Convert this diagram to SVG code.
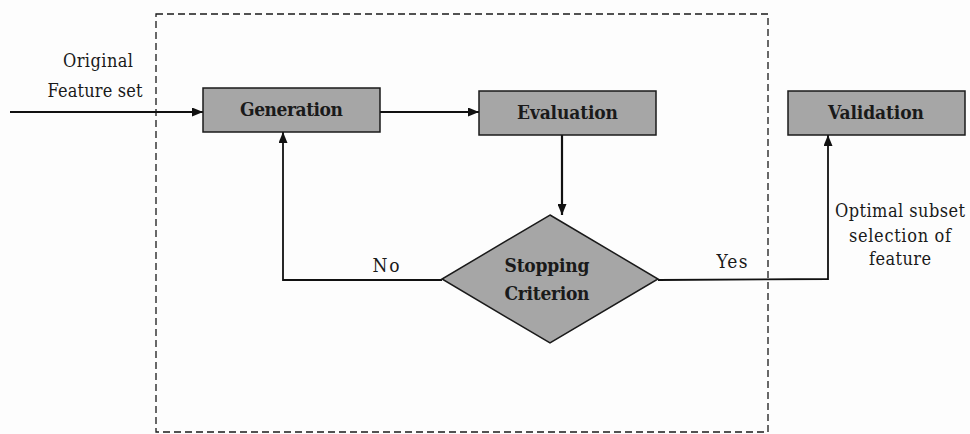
<svg xmlns="http://www.w3.org/2000/svg" width="970" height="434" viewBox="0 0 970 434">
<style>
.box{fill:#a6a6a6;stroke:#1a1a1a;stroke-width:1.5}
.lbl{font-family:"DejaVu Serif Condensed","DejaVu Serif",serif;font-stretch:condensed;font-weight:bold;font-size:19px;fill:#1a1a1a;text-anchor:middle}
.txt{font-family:"DejaVu Serif Condensed","DejaVu Serif",serif;font-stretch:condensed;font-size:18px;fill:#1a1a1a;text-anchor:middle}
.ln{fill:none;stroke:#111;stroke-width:1.8}
.dash{fill:none;stroke:#1a1a1a;stroke-width:1.3;stroke-dasharray:7 4}
</style>
<defs>
<marker id="ah" viewBox="0 0 11 9" refX="11" refY="4.5" markerWidth="11" markerHeight="9" markerUnits="userSpaceOnUse" orient="auto">
<path d="M0,0 L11,4.5 L0,9 Z" fill="#111"/>
</marker>
</defs>
<rect width="970" height="434" fill="#fdfdfd"/>
<rect id="boundary" class="dash" x="156" y="14" width="612" height="418"/>
<g id="connectors">
<line class="ln" x1="10" y1="112" x2="203" y2="112" marker-end="url(#ah)"/>
<line class="ln" x1="380" y1="112" x2="479" y2="112" marker-end="url(#ah)"/>
<line class="ln" x1="562" y1="135" x2="562" y2="215" marker-end="url(#ah)" style="stroke-width:2.2"/>
<polyline class="ln" points="442,280 283,280 283,132" marker-end="url(#ah)"/>
<polyline class="ln" points="658,280 828,279 828,135" marker-end="url(#ah)"/>
<text class="txt" x="386" y="272" style="font-size:19px" textLength="27" lengthAdjust="spacing">No</text>
<text class="txt" x="732" y="268" style="font-size:19px" textLength="31" lengthAdjust="spacing">Yes</text>
</g>
<g id="input-label">
<text class="txt" x="98" y="67" textLength="70" lengthAdjust="spacing">Original</text>
<text class="txt" x="95" y="97" textLength="95" lengthAdjust="spacing">Feature set</text>
</g>
<g id="generation">
<rect class="box" x="203" y="88" width="177" height="44"/>
<text class="lbl" x="291.5" y="116" textLength="103" lengthAdjust="spacing">Generation</text>
</g>
<g id="evaluation">
<rect class="box" x="479" y="91" width="177" height="44"/>
<text class="lbl" x="567.5" y="119" textLength="101" lengthAdjust="spacing">Evaluation</text>
</g>
<g id="validation">
<rect class="box" x="788" y="91" width="177" height="44"/>
<text class="lbl" x="876" y="119" textLength="96" lengthAdjust="spacing">Validation</text>
</g>
<g id="stopping-criterion">
<polygon class="box" points="550,215 658,279 550,343 442,279"/>
<text class="lbl" x="547" y="272" textLength="85" lengthAdjust="spacing">Stopping</text>
<text class="lbl" x="547" y="300" textLength="85" lengthAdjust="spacing">Criterion</text>
</g>
<g id="output-label">
<text class="txt" x="900" y="217" textLength="130" lengthAdjust="spacing">Optimal subset</text>
<text class="txt" x="900" y="242" textLength="102" lengthAdjust="spacing">selection of</text>
<text class="txt" x="900" y="265" textLength="62" lengthAdjust="spacing">feature</text>
</g>
</svg>
